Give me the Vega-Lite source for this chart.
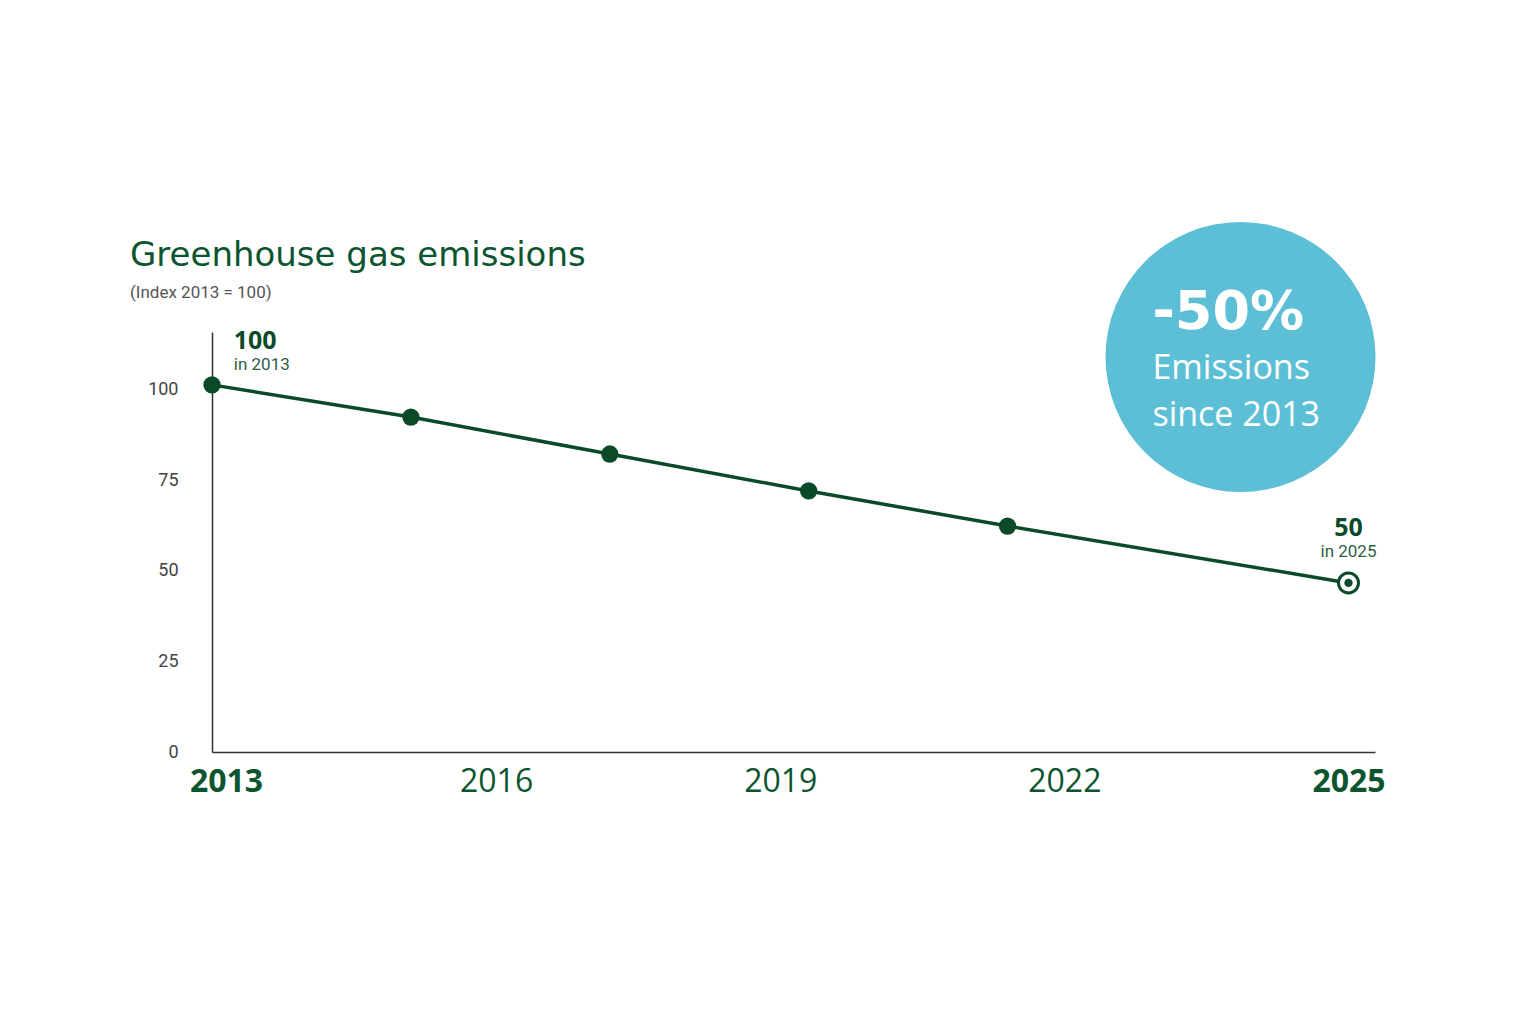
{
  "$schema": "https://vega.github.io/schema/vega-lite/v6.json",
  "autosize": {"type": "none"},
  "padding": {"left": 212, "top": 332, "right": 161, "bottom": 272},
  "width": 1163,
  "height": 420,
  "background": "white",
  "config": {"view": {"stroke": null}},
  "title": {
    "text": "Greenhouse gas emissions",
    "subtitle": "\u00a0\u00a0(Index 2013 = 100)",
    "anchor": "start",
    "frame": "group",
    "dx": -82,
    "offset": -79,
    "font": "DejaVu Sans",
    "fontSize": 34,
    "fontWeight": "normal",
    "color": "#0D5530",
    "subtitleFont": "Roboto",
    "subtitleFontSize": 17,
    "subtitleColor": "#555555",
    "subtitlePadding": 12
  },
  "datasets": {
    "series": [
      {"year": 2013.0, "value": 101.4},
      {"year": 2015.1, "value": 92.5},
      {"year": 2017.2, "value": 82.3},
      {"year": 2019.3, "value": 72.1},
      {"year": 2021.4, "value": 62.4},
      {"year": 2025.0, "value": 46.7}
    ],
    "badge": [{"year": 2023.86, "value": 109.1}],
    "badgeBig": [{"year": 2022.93, "value": 121.3, "text": "-50%"}],
    "badgeSmall": [
      {"year": 2022.93, "value": 105.8, "text": "Emissions"},
      {"year": 2022.93, "value": 92.8, "text": "since 2013"}
    ],
    "notesLeft": [
      {"year": 2013.23, "value": 113.4, "text": "100", "bold": true},
      {"year": 2013.23, "value": 106.9, "text": "in 2013", "bold": false}
    ],
    "notesCenter": [
      {"year": 2025.0, "value": 61.9, "text": "50", "bold": true},
      {"year": 2025.0, "value": 55.2, "text": "in 2025", "bold": false}
    ]
  },
  "layer": [
    {
      "data": {"name": "badge"},
      "mark": {"type": "point", "shape": "circle", "filled": true, "size": 72900, "color": "#5CBFD6", "opacity": 1, "clip": false},
      "encoding": {
        "x": {"field": "year", "type": "quantitative", "scale": {"domain": [2013, 2025.28], "nice": false, "zero": false},
          "axis": {
            "values": [2013, 2016, 2019, 2022, 2025],
            "title": null,
            "format": "d",
            "ticks": false,
            "grid": false,
            "labelFlush": false,
            "domainColor": "#333333",
            "domainWidth": 1.5,
            "labelFont": "Open Sans",
            "labelFontSize": 32,
            "labelColor": "#0D5530",
            "labelPadding": 14,
            "labelFontWeight": {"condition": {"test": "datum.value == 2013 || datum.value == 2025", "value": "bold"}, "value": "normal"},
            "labelOffset": {"condition": {"test": "datum.value == 2013", "value": 14}, "value": 0}
          }},
        "y": {"field": "value", "type": "quantitative", "scale": {"domain": [0, 116], "nice": false},
          "axis": {
            "values": [0, 25, 50, 75, 100],
            "title": null,
            "ticks": false,
            "grid": false,
            "domainColor": "#333333",
            "domainWidth": 1.5,
            "labelFont": "Roboto",
            "labelFontSize": 18,
            "labelColor": "#444444",
            "labelPadding": 34
          }}
      }
    },
    {
      "data": {"name": "badgeBig"},
      "mark": {"type": "text", "align": "left", "baseline": "middle", "color": "white", "font": "DejaVu Sans", "fontWeight": "bold", "fontSize": 54, "clip": false},
      "encoding": {
        "x": {"field": "year", "type": "quantitative"},
        "y": {"field": "value", "type": "quantitative"},
        "text": {"field": "text"}
      }
    },
    {
      "data": {"name": "badgeSmall"},
      "mark": {"type": "text", "align": "left", "baseline": "middle", "color": "white", "font": "Open Sans", "fontSize": 34, "clip": false},
      "encoding": {
        "x": {"field": "year", "type": "quantitative"},
        "y": {"field": "value", "type": "quantitative"},
        "text": {"field": "text"}
      }
    },
    {
      "data": {"name": "series"},
      "mark": {"type": "line", "color": "#0B4A29", "strokeWidth": 3.5},
      "encoding": {
        "x": {"field": "year", "type": "quantitative"},
        "y": {"field": "value", "type": "quantitative"}
      }
    },
    {
      "data": {"name": "series"},
      "transform": [{"filter": "datum.year < 2025"}],
      "mark": {"type": "point", "shape": "circle", "filled": true, "size": 300, "color": "#0B4A29", "opacity": 1},
      "encoding": {
        "x": {"field": "year", "type": "quantitative"},
        "y": {"field": "value", "type": "quantitative"}
      }
    },
    {
      "data": {"name": "series"},
      "transform": [{"filter": "datum.year == 2025"}],
      "mark": {"type": "point", "shape": "circle", "filled": true, "size": 400, "fill": "white", "stroke": "#0B4A29", "strokeWidth": 3, "opacity": 1},
      "encoding": {
        "x": {"field": "year", "type": "quantitative"},
        "y": {"field": "value", "type": "quantitative"}
      }
    },
    {
      "data": {"name": "series"},
      "transform": [{"filter": "datum.year == 2025"}],
      "mark": {"type": "point", "shape": "circle", "filled": true, "size": 70, "color": "#0B4A29", "opacity": 1},
      "encoding": {
        "x": {"field": "year", "type": "quantitative"},
        "y": {"field": "value", "type": "quantitative"}
      }
    },
    {
      "data": {"name": "notesLeft"},
      "transform": [{"filter": "datum.bold"}],
      "mark": {"type": "text", "align": "left", "baseline": "middle", "fontWeight": "bold", "fontSize": 25, "font": "Open Sans", "color": "#0B4A29", "clip": false},
      "encoding": {
        "x": {"field": "year", "type": "quantitative"},
        "y": {"field": "value", "type": "quantitative"},
        "text": {"field": "text"}
      }
    },
    {
      "data": {"name": "notesLeft"},
      "transform": [{"filter": "!datum.bold"}],
      "mark": {"type": "text", "align": "left", "baseline": "middle", "fontSize": 17, "font": "Roboto", "color": "#2E5E44", "clip": false},
      "encoding": {
        "x": {"field": "year", "type": "quantitative"},
        "y": {"field": "value", "type": "quantitative"},
        "text": {"field": "text"}
      }
    },
    {
      "data": {"name": "notesCenter"},
      "transform": [{"filter": "datum.bold"}],
      "mark": {"type": "text", "align": "center", "baseline": "middle", "fontWeight": "bold", "fontSize": 25, "font": "Open Sans", "color": "#0B4A29", "clip": false},
      "encoding": {
        "x": {"field": "year", "type": "quantitative"},
        "y": {"field": "value", "type": "quantitative"},
        "text": {"field": "text"}
      }
    },
    {
      "data": {"name": "notesCenter"},
      "transform": [{"filter": "!datum.bold"}],
      "mark": {"type": "text", "align": "center", "baseline": "middle", "fontSize": 17, "font": "Roboto", "color": "#2E5E44", "clip": false},
      "encoding": {
        "x": {"field": "year", "type": "quantitative"},
        "y": {"field": "value", "type": "quantitative"},
        "text": {"field": "text"}
      }
    }
  ]
}
